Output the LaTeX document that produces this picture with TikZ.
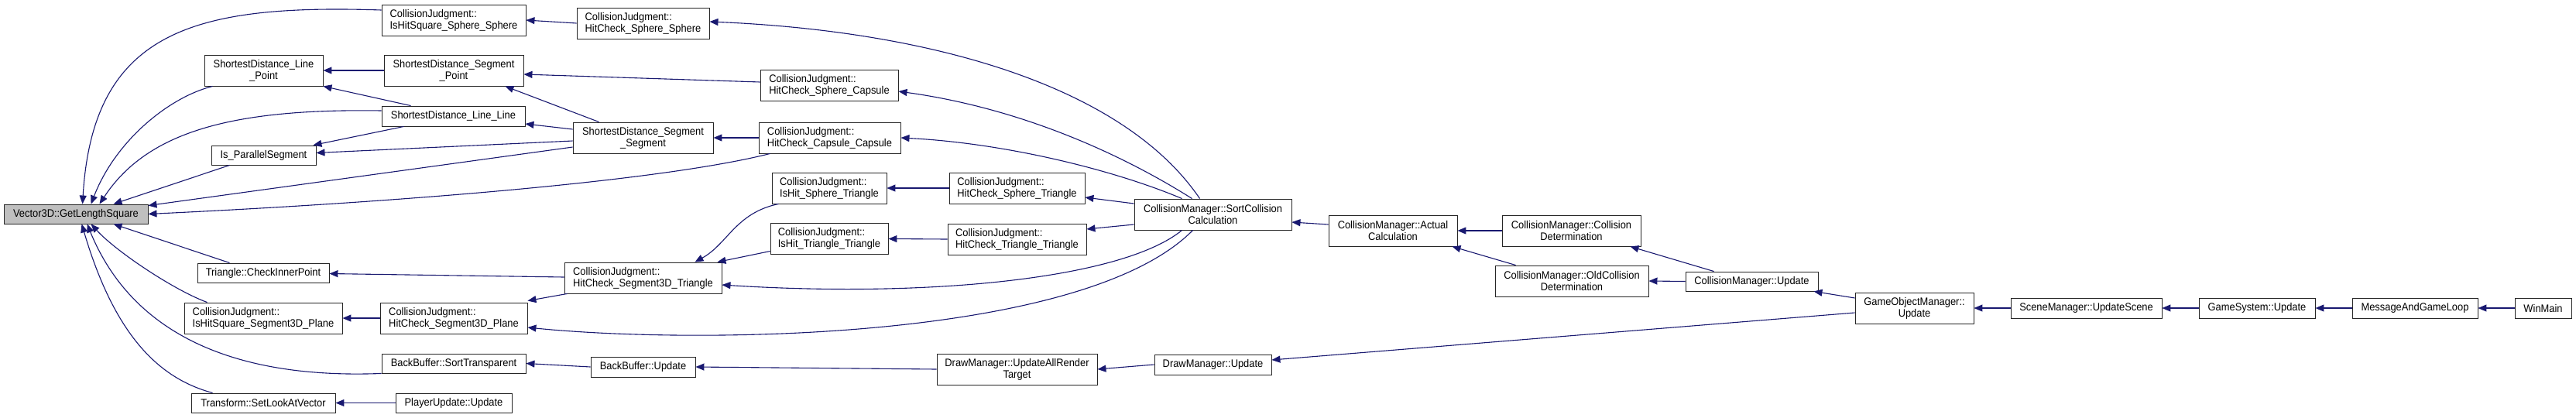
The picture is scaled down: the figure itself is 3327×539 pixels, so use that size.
\documentclass[tikz,border=0pt]{standalone}
\usepackage{fontspec}
\setmainfont{Liberation Sans}[FakeStretch=0.92]
\usetikzlibrary{arrows.meta,calc}
\definecolor{edgec}{RGB}{25,25,112}
\definecolor{v3dfill}{RGB}{191,191,191}
\begin{document}
\begin{tikzpicture}[x=1pt,y=-1pt,
  nd/.style={draw=black!85, line width=0.9pt, fill=white, rectangle, inner sep=0pt,
    font=\fontsize{14}{15}\selectfont, align=center, text=black},
  cj/.style={nd, align=left},
  edge/.style={draw=edgec, line width=1.1pt, {Triangle[length=11pt,width=9pt]}-}]
\useasboundingbox (0,0) rectangle (3327,539);
% nodes
\node[nd, fill=v3dfill, minimum width=186, minimum height=25] (v3d) at (98,276.5) {Vector3D::GetLengthSquare};
\node[cj, minimum width=186, minimum height=40] (ihss) at (586,26) {CollisionJudgment::\\IsHitSquare\_Sphere\_Sphere};
\node[nd, minimum width=153, minimum height=40] (sdlp) at (340.5,91) {ShortestDistance\_Line\\\_Point};
\node[nd, minimum width=180, minimum height=40] (sdsp) at (586,91) {ShortestDistance\_Segment\\\_Point};
\node[nd, minimum width=185, minimum height=26] (sdll) at (585.5,150) {ShortestDistance\_Line\_Line};
\node[nd, minimum width=135, minimum height=25] (ispar) at (340.5,200.5) {Is\_ParallelSegment};
\node[nd, minimum width=170, minimum height=25] (tri) at (340,352.5) {Triangle::CheckInnerPoint};
\node[cj, minimum width=204, minimum height=40] (ihsp) at (340,411) {CollisionJudgment::\\IsHitSquare\_Segment3D\_Plane};
\node[cj, minimum width=190, minimum height=40] (hcsp) at (586,411) {CollisionJudgment::\\HitCheck\_Segment3D\_Plane};
\node[nd, minimum width=186, minimum height=25] (bbst) at (586,469.5) {BackBuffer::SortTransparent};
\node[nd, minimum width=186, minimum height=25] (tslv) at (340,520.5) {Transform::SetLookAtVector};
\node[nd, minimum width=150, minimum height=25] (pupd) at (586,520.5) {PlayerUpdate::Update};
\node[cj, minimum width=171, minimum height=40] (hcss) at (830.5,30) {CollisionJudgment::\\HitCheck\_Sphere\_Sphere};
\node[cj, minimum width=178, minimum height=40] (hcsc) at (1071,110) {CollisionJudgment::\\HitCheck\_Sphere\_Capsule};
\node[nd, minimum width=181, minimum height=40] (sdss) at (830.5,178) {ShortestDistance\_Segment\\\_Segment};
\node[cj, minimum width=183, minimum height=40] (hccc) at (1071.5,178) {CollisionJudgment::\\HitCheck\_Capsule\_Capsule};
\node[cj, minimum width=148, minimum height=40] (ihst) at (1071,243) {CollisionJudgment::\\IsHit\_Sphere\_Triangle};
\node[cj, minimum width=175, minimum height=40] (hcst) at (1313.5,243) {CollisionJudgment::\\HitCheck\_Sphere\_Triangle};
\node[cj, minimum width=152, minimum height=40] (ihtt) at (1071,308.5) {CollisionJudgment::\\IsHit\_Triangle\_Triangle};
\node[cj, minimum width=179, minimum height=40] (hctt) at (1313.5,309) {CollisionJudgment::\\HitCheck\_Triangle\_Triangle};
\node[cj, minimum width=203, minimum height=40] (hcs3t) at (830.5,359) {CollisionJudgment::\\HitCheck\_Segment3D\_Triangle};
\node[nd, minimum width=135, minimum height=26] (bbup) at (830.5,474) {BackBuffer::Update};
\node[nd, minimum width=207, minimum height=40] (dmuart) at (1313.5,477) {DrawManager::UpdateAllRender\\Target};
\node[nd, minimum width=203, minimum height=40] (scc) at (1566.5,277) {CollisionManager::SortCollision\\Calculation};
\node[nd, minimum width=166, minimum height=40] (act) at (1799,298) {CollisionManager::Actual\\Calculation};
\node[nd, minimum width=179, minimum height=40] (cdet) at (2029.5,298) {CollisionManager::Collision\\Determination};
\node[nd, minimum width=198, minimum height=40] (ocdet) at (2030,363) {CollisionManager::OldCollision\\Determination};
\node[nd, minimum width=151, minimum height=26] (dmup) at (1566.5,471) {DrawManager::Update};
\node[nd, minimum width=171, minimum height=25] (cmup) at (2262.5,363.5) {CollisionManager::Update};
\node[nd, minimum width=153, minimum height=40] (gomu) at (2472.5,398) {GameObjectManager::\\Update};
\node[nd, minimum width=195, minimum height=26] (smus) at (2694.5,398) {SceneManager::UpdateScene};
\node[nd, minimum width=150, minimum height=26] (gsup) at (2915,398) {GameSystem::Update};
\node[nd, minimum width=162, minimum height=26] (mgl) at (3119,398) {MessageAndGameLoop};
\node[nd, minimum width=73, minimum height=26] (wm) at (3284.5,398) {WinMain};
% edges into Vector3D::GetLengthSquare
\draw[edge] ($(v3d.north west)+(102,0)$) .. controls (120,40) and (250,5) .. ($(ihss.west)+(0,-13)$);
\draw[edge] ($(v3d.north west)+(113,0)$) .. controls (150,180) and (220,125) .. ($(sdlp.south west)+(11,0)$);
\draw[edge] ($(v3d.north west)+(124,0)$) .. controls (190,170) and (300,140) .. ($(sdll.west)+(0,-7)$);
\draw[edge] ($(v3d.north west)+(142,0)$) -- ($(ispar.south west)+(24,0)$);
\draw[edge] ($(v3d.north east)+(0,2)$) -- ($(sdss.west)+(0,12)$);
\draw[edge] (v3d.east) .. controls (500,262) and (850,235) .. ($(hccc.south west)+(15,0)$);
\draw[edge] ($(v3d.south west)+(142,0)$) -- ($(tri.north west)+(42,0)$);
\draw[edge] ($(v3d.south west)+(113,0)$) .. controls (150,325) and (225,375) .. ($(ihsp.north west)+(30,0)$);
\draw[edge] ($(v3d.south west)+(108,0)$) .. controls (170,430) and (300,490) .. (bbst.south west);
\draw[edge] ($(v3d.south west)+(101,0)$) .. controls (150,440) and (210,490) .. ($(tslv.north west)+(28,0)$);
% other edges
\draw[edge] (ihss.east) -- (hcss.west);
\draw[edge] (sdlp.east) -- (sdsp.west);
\draw[edge] (sdlp.south east) -- ($(sdll.north west)+(38,0)$);
\draw[edge] ($(ispar.north east)+(-4,0)$) -- ($(sdll.south west)+(29,0)$);
\draw[edge] ($(sdsp.south east)+(-24,0)$) -- ($(sdss.north west)+(34,0)$);
\draw[edge] ($(sdll.east)+(0,10)$) -- ($(sdss.west)+(0,-11)$);
\draw[edge] ($(ispar.east)+(0,-3)$) -- ($(sdss.west)+(0,4)$);
\draw[edge] ($(sdsp.east)+(0,5)$) -- ($(hcsc.west)+(0,-4)$);
\draw[edge] (sdss.east) -- (hccc.west);
\draw[edge] (ihst.east) -- (hcst.west);
\draw[edge] (ihtt.east) -- (hctt.west);
\draw[edge] ($(hcs3t.north east)+(-35,0)$) .. controls (940,315) and (950,275) .. ($(ihst.south west)+(9,0)$);
\draw[edge] ($(hcs3t.north east)+(-6,0)$) -- ($(ihtt.west)+(0,16)$);
\draw[edge] ($(tri.east)+(0,1)$) -- ($(hcs3t.west)+(0,-1)$);
\draw[edge] ($(hcsp.north east)+(0,-2)$) -- ($(hcs3t.south west)+(4,0)$);
\draw[edge] (ihsp.east) -- (hcsp.west);
\draw[edge] (tslv.east) -- (pupd.west);
\draw[edge] (bbst.east) -- (bbup.west);
\draw[edge] (bbup.east) -- (dmuart.west);
\draw[edge] (dmuart.east) -- (dmup.west);
\draw[edge] ($(dmup.east)+(0,-6)$) -- ($(gomu.west)+(0,6)$);
\draw[edge] ($(hcss.east)+(0,-2)$) .. controls (1200,40) and (1450,110) .. ($(scc.north west)+(85,0)$);
\draw[edge] ($(hcsc.east)+(0,8)$) .. controls (1320,140) and (1450,200) .. ($(scc.north west)+(75,0)$);
\draw[edge] (hccc.east) .. controls (1300,185) and (1440,220) .. ($(scc.north west)+(62,0)$);
\draw[edge] ($(hcst.east)+(0,12)$) -- ($(scc.west)+(0,-14)$);
\draw[edge] ($(hctt.east)+(0,-13)$) -- ($(scc.west)+(0,13)$);
\draw[edge] ($(hcs3t.east)+(0,9)$) .. controls (1200,385) and (1450,360) .. ($(scc.south west)+(62,0)$);
\draw[edge] ($(hcsp.east)+(0,12)$) .. controls (900,445) and (1400,440) .. ($(scc.south west)+(76,0)$);
\draw[edge] ($(scc.east)+(0,10)$) -- ($(act.west)+(0,-8)$);
\draw[edge] (act.east) -- (cdet.west);
\draw[edge] ($(act.south east)+(-7,0)$) -- ($(ocdet.north west)+(27,0)$);
\draw[edge] ($(cdet.south east)+(-14,0)$) -- ($(cmup.north west)+(37,0)$);
\draw[edge] (ocdet.east) -- (cmup.west);
\draw[edge] ($(cmup.south east)+(-6,0)$) -- ($(gomu.west)+(0,-13)$);
\draw[edge] (gomu.east) -- (smus.west);
\draw[edge] (smus.east) -- (gsup.west);
\draw[edge] (gsup.east) -- (mgl.west);
\draw[edge] (mgl.east) -- (wm.west);
\end{tikzpicture}
\end{document}
